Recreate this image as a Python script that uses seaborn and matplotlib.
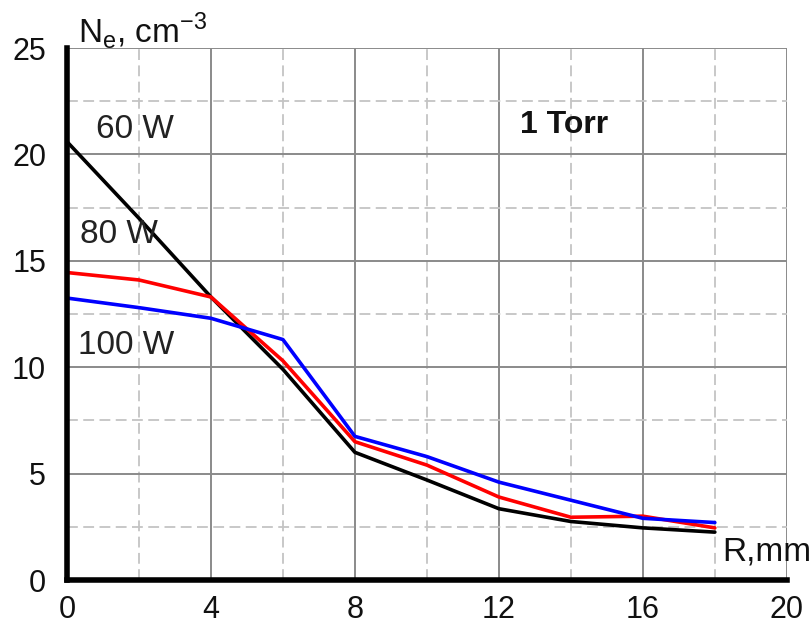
import matplotlib
matplotlib.use("Agg")
import matplotlib.pyplot as plt
import seaborn as sns
import pandas as pd
from matplotlib.ticker import MultipleLocator

R = [0, 2, 4, 6, 8, 10, 12, 14, 16, 18]
ne_60 = [20.6, 17.0, 13.3, 9.9, 6.0, 4.7, 3.35, 2.75, 2.45, 2.25]
ne_80 = [14.45, 14.1, 13.3, 10.3, 6.5, 5.4, 3.9, 2.95, 3.0, 2.45]
ne_100 = [13.25, 12.8, 12.3, 11.3, 6.75, 5.8, 4.6, 3.75, 2.9, 2.7]
series = ["60 W", "80 W", "100 W"]
colors = ["#000000", "#ff0000", "#0000ff"]

df = pd.concat([
    pd.DataFrame({"R": R, "Ne": v, "P": s})
    for s, v in zip(series, [ne_60, ne_80, ne_100])
])

sns.set_style("white")
plt.rcParams["font.family"] = ["Liberation Sans", "DejaVu Sans"]

fig = plt.figure(figsize=(8.12, 6.24), dpi=100)
ax = fig.add_axes([0.0825, 0.0705, 0.8865, 0.8525])

ax.set_xlim(0, 20)
ax.set_ylim(0, 25)
ax.xaxis.set_major_locator(MultipleLocator(4))
ax.xaxis.set_minor_locator(MultipleLocator(2))
ax.yaxis.set_major_locator(MultipleLocator(5))
ax.yaxis.set_minor_locator(MultipleLocator(2.5))
ax.grid(which="major", color="#8a8a8a", lw=1.4, ls="-", zorder=0)
ax.grid(which="minor", color="#c4c4c4", lw=1.3, ls=(0, (6, 3)), zorder=0)
ax.set_axisbelow(True)

sns.lineplot(data=df, x="R", y="Ne", hue="P", palette=colors, hue_order=series,
             lw=2.6, legend=False, ax=ax, zorder=3)

for s in ["top", "right"]:
    ax.spines[s].set_visible(False)
for s in ["left", "bottom"]:
    ax.spines[s].set_linewidth(4)
    ax.spines[s].set_color("black")
    ax.spines[s].set_zorder(5)

ax.tick_params(which="major", direction="out", length=7, width=4, color="black",
               labelsize=22, labelcolor="#111111")
ax.tick_params(axis="y", which="major", pad=8)
ax.tick_params(axis="x", which="major", pad=4)
ax.tick_params(which="minor", direction="out", length=3, width=2, color="black")
ax.set_xlabel("")
ax.set_ylabel("")

ax.text(0.8, 20.75, "60 W", fontsize=24, color="#222222", va="baseline")
ax.text(0.35, 15.85, "80 W", fontsize=24, color="#222222", va="baseline")
ax.text(0.3, 10.6, "100 W", fontsize=24, color="#222222", va="baseline")
ax.text(12.6, 21.0, "1 Torr", fontsize=23, fontweight="bold", color="#111111", va="baseline")
ax.text(18.2, 0.9, "R,mm", fontsize=24, color="#111111", va="baseline", clip_on=False)
ax.text(0.3, 25.25, r"N$_\mathregular{e}$, cm$^\mathregular{-3}$", fontsize=24,
        color="#111111", va="baseline", clip_on=False)

fig.savefig("out.png", dpi=100)
